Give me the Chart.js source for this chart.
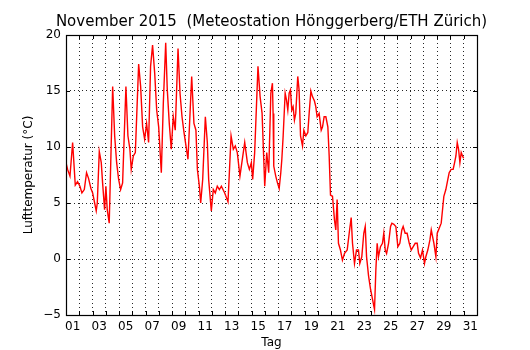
<!DOCTYPE html>
<html>
<head>
<meta charset="utf-8">
<script src="https://cdn.jsdelivr.net/npm/chart.js@4/dist/chart.umd.min.js"></script>
<style>
html,body{margin:0;padding:0;background:#fff;}
canvas{display:block;}
</style>
</head>
<body>
<canvas id="c" width="530" height="350"></canvas>
<script>
// time since 1 Nov 2015 00:00, in days
const days = [
  0.00,0.12,0.30,0.50,0.70,0.87,1.05,1.20,1.38,1.55,1.70,1.88,2.01,2.16,2.28,2.36,2.51,2.66,2.76,2.91,
  3.01,3.11,3.26,3.52,3.67,3.82,3.97,4.12,4.27,4.52,4.67,4.82,4.92,5.08,5.23,5.48,5.63,5.78,5.93,6.08,
  6.23,6.38,6.53,6.69,6.84,6.99,7.19,7.34,7.52,7.64,7.79,7.94,8.09,8.24,8.45,8.60,8.75,8.90,9.05,9.20,
  9.48,9.65,9.80,9.91,10.06,10.16,10.31,10.51,10.66,10.76,10.96,11.11,11.26,11.41,11.57,11.72,11.97,12.22,12.45,12.62,
  12.77,12.92,13.12,13.48,13.68,13.83,13.98,14.08,14.23,14.48,14.64,14.79,14.99,15.14,15.29,15.45,15.57,15.62,15.67,15.82,
  15.95,16.08,16.20,16.28,16.38,16.53,16.63,16.73,16.83,16.93,17.03,17.13,17.23,17.33,17.48,17.58,17.69,17.84,17.94,18.09,
  18.24,18.34,18.47,18.59,18.74,18.84,18.94,19.09,19.25,19.35,19.47,19.60,19.75,19.85,19.95,20.10,20.25,20.35,20.45,20.55,
  20.70,20.85,21.01,21.21,21.36,21.51,21.61,21.76,21.91,22.06,22.16,22.31,22.46,22.57,22.67,22.82,22.97,23.12,23.27,23.37,
  23.47,23.57,23.72,23.87,23.97,24.08,24.18,24.33,24.48,24.58,24.73,24.88,25.03,25.18,25.33,25.43,25.58,25.73,25.89,26.04,
  26.19,26.34,26.49,26.59,26.74,26.89,27.04,27.14,27.29,27.45,27.55,27.65,27.75,27.90,28.00,28.10,28.20,28.30,28.40,28.50,
  28.65,28.80,28.90,29.05,29.20,29.31,29.41,29.51,29.61,29.71,29.81,29.91,29.99
];
// air temperature, °C
const temps = [
  8.6,8.0,7.4,10.4,6.6,6.9,6.5,5.9,6.2,7.7,7.2,6.3,5.9,5.0,4.3,5.0,9.6,8.6,6.8,4.4,
  6.5,4.4,3.2,15.4,11.0,8.6,7.1,6.2,6.8,15.4,11.0,9.8,8.0,9.2,9.5,17.4,15.4,11.8,10.7,12.1,
  10.4,17.2,19.1,16.6,13.3,11.8,7.7,13.9,19.3,15.1,12.1,9.8,12.7,11.5,18.8,14.8,12.7,11.3,10.1,8.9,
  16.3,12.1,11.5,8.0,6.5,5.0,7.1,12.7,10.4,7.1,4.3,6.2,5.9,6.5,6.2,6.5,5.9,5.1,11.0,9.8,
  10.1,9.5,7.4,10.4,8.6,8.0,8.6,7.1,9.5,17.2,14.5,13.0,6.5,9.5,7.7,14.8,15.7,13.0,8.3,7.4,
  6.8,6.3,7.7,8.9,11.0,14.8,14.2,13.3,14.8,15.1,13.3,13.6,12.4,13.0,16.3,15.1,11.0,10.1,11.5,11.0,
  11.3,13.0,15.0,14.5,14.1,13.6,12.7,13.0,11.5,11.8,12.7,12.7,11.8,9.2,5.7,5.6,3.5,2.6,5.3,1.4,
  0.8,-0.1,0.5,0.8,2.3,3.7,1.4,-0.4,0.8,0.8,-0.4,0.2,2.3,2.9,0.2,-1.5,-2.7,-3.6,-4.5,-1.0,
  1.4,0.2,1.1,1.4,2.3,0.8,0.5,1.4,2.9,3.2,3.1,2.9,1.1,1.4,2.6,2.9,2.3,2.3,1.4,0.8,
  1.1,1.4,1.4,0.5,0.1,0.8,-0.4,0.2,0.8,1.7,2.6,2.0,1.4,0.2,2.3,2.6,2.9,3.2,4.4,5.6,
  6.2,7.1,7.7,8.0,8.0,8.6,9.2,10.4,9.8,8.6,9.5,9.2,9.0
];
// day labels, placed at the middle of each odd day
const dayLabels = ['01','03','05','07','09','11','13','15','17','19','21','23','25','27','29','31'];
const yTicks = [-5, 0, 5, 10, 15, 20];

Chart.defaults.font.family = "'DejaVu Sans'";
Chart.defaults.font.size = 12;
Chart.defaults.color = '#000';

const points = days.map((d, i) => ({x: d, y: temps[i]}));
const dayCount = 31;

const framePlugin = {
  id: 'frame',
  afterLayout(chart) {
    const t = chart.titleBlock;
    if (t) {
      const c = (chart.chartArea.left + chart.chartArea.right) / 2;
      t.left = c - 255; t.right = c + 255; t.width = 510;
    }
  },
  afterDatasetsDraw(chart) {
    const {ctx, chartArea: a, scales: {x, y}} = chart;
    ctx.save();
    ctx.strokeStyle = '#000';
    ctx.lineWidth = 1;
    ctx.beginPath();
    for (let d = 1; d < dayCount; d++) {
      const px = Math.round(x.getPixelForValue(d)) + 0.5;
      ctx.moveTo(px, a.bottom); ctx.lineTo(px, a.bottom - 4);
      ctx.moveTo(px, a.top); ctx.lineTo(px, a.top + 4);
    }
    yTicks.forEach(v => {
      const py = Math.round(y.getPixelForValue(v)) + 0.5;
      ctx.moveTo(a.left, py); ctx.lineTo(a.left + 4, py);
      ctx.moveTo(a.right, py); ctx.lineTo(a.right - 4, py);
    });
    ctx.stroke();
    ctx.lineWidth = 1.2;
    ctx.strokeRect(Math.round(a.left) + 0.5, Math.round(a.top) + 0.5, Math.round(a.right - a.left), Math.round(a.bottom - a.top));
    ctx.restore();
  }
};

new Chart(document.getElementById('c'), {
  type: 'line',
  data: {
    datasets: [{
      data: points,
      borderColor: '#ff0000',
      borderWidth: 1.4,
      pointRadius: 0,
      tension: 0,
      fill: false
    }]
  },
  options: {
    responsive: false,
    animation: false,
    devicePixelRatio: 1,
    layout: {padding: {left: 0, right: 53, top: 0, bottom: 0}},
    plugins: {
      legend: {display: false},
      tooltip: {enabled: false},
      title: {
        display: true,
        text: 'November 2015  (Meteostation Hönggerberg/ETH Zürich)',
        font: {size: 15, weight: 'normal'},
        color: '#000',
        padding: {top: 13, bottom: 4}
      }
    },
    scales: {
      x: {
        type: 'linear',
        min: 0,
        max: dayCount,
        afterBuildTicks(scale) {
          const t = [];
          for (let v = 0; v <= dayCount * 2; v++) t.push({value: v / 2});
          scale.ticks = t;
        },
        afterFit(scale) { scale.height = 35; },
        ticks: {
          autoSkip: false,
          maxRotation: 0,
          minRotation: 0,
          padding: 5,
          callback(value) {
            if (Number.isInteger(value)) return '';
            const day = Math.round(value + 0.5);
            const lbl = String(day).padStart(2, '0');
            return dayLabels.includes(lbl) ? lbl : '';
          }
        },
        grid: {
          drawTicks: false,
          lineWidth: 1,
          color(ctx) {
            const v = ctx.tick && ctx.tick.value;
            return (Number.isInteger(v) && v > 0 && v < dayCount) ? 'rgba(0,0,0,0.85)' : 'rgba(0,0,0,0)';
          }
        },
        border: {display: false, dash: [1, 3]},
        title: {display: true, text: 'Tag', font: {size: 12}, padding: {top: 0, bottom: 0}}
      },
      y: {
        type: 'linear',
        min: -5,
        max: 20,
        afterBuildTicks(scale) { scale.ticks = yTicks.map(v => ({value: v})); },
        afterFit(scale) { scale.width = 66; },
        ticks: {
          padding: 5,
          callback(value) { return String(value).replace('-', '\u2212'); }
        },
        grid: {
          drawTicks: false,
          lineWidth: 1,
          color(ctx) {
            const v = ctx.tick && ctx.tick.value;
            return (v > -5 && v < 20) ? 'rgba(0,0,0,0.85)' : 'rgba(0,0,0,0)';
          }
        },
        border: {display: false, dash: [1, 3]},
        title: {display: true, text: 'Lufttemperatur (°C)', font: {size: 12}, padding: {top: 22, bottom: 0}}
      }
    }
  },
  plugins: [framePlugin]
});
</script>
</body>
</html>
